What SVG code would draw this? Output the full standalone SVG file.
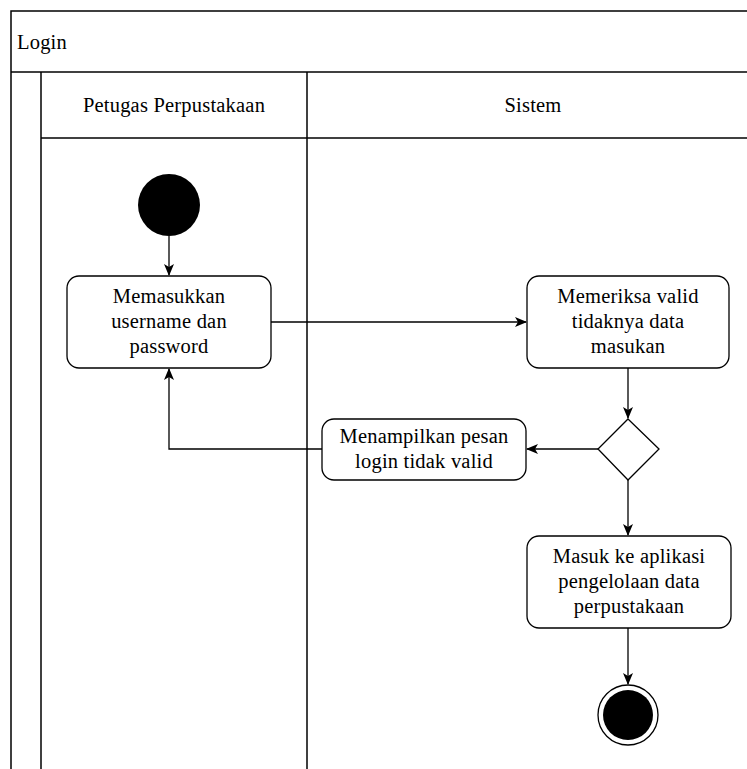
<svg xmlns="http://www.w3.org/2000/svg" width="747" height="769" viewBox="0 0 747 769">
<style>
.ln{stroke:#000;stroke-width:1.3;fill:none}
.fr{stroke:#000;stroke-width:1.5;fill:none}
.box{fill:#fff;stroke:#000;stroke-width:1.3}
text{font-family:'Liberation Serif','Times New Roman',serif;font-size:20.5px;fill:#000;letter-spacing:0.2px}
.t{text-anchor:middle}
</style>
<defs>
<marker id="ah" markerWidth="12" markerHeight="10" refX="11" refY="5" orient="auto" markerUnits="userSpaceOnUse">
<path d="M0,0 L12,5 L0,10 L3,5 Z" fill="#000"/>
</marker>
</defs>
<rect width="747" height="769" fill="#fff"/>
<g id="frame">
<path class="fr" d="M11,769 V11 H747"/>
<path class="fr" d="M11,72 H747"/>
<path class="fr" d="M41,72 V769"/>
<path class="fr" d="M307,72 V769"/>
<path class="fr" d="M41,138 H747"/>
<text x="17" y="49">Login</text>
<text class="t" x="174" y="112">Petugas Perpustakaan</text>
<text class="t" x="533" y="112">Sistem</text>
</g>
<g id="connectors">
<path class="ln" d="M169,236 V275" marker-end="url(#ah)"/>
<path class="ln" d="M271,322 H526" marker-end="url(#ah)"/>
<path class="ln" d="M628,368 V418" marker-end="url(#ah)"/>
<path class="ln" d="M598,449 H527" marker-end="url(#ah)"/>
<path class="ln" d="M322,449 H169 V369" marker-end="url(#ah)"/>
<path class="ln" d="M628,480 V535" marker-end="url(#ah)"/>
<path class="ln" d="M628,628 V684" marker-end="url(#ah)"/>
</g>
<g id="start"><circle cx="169" cy="205" r="31" fill="#000"/></g>
<g id="input">
<rect class="box" x="67" y="276" width="204" height="92" rx="12"/>
<text class="t" x="169" y="303">Memasukkan</text>
<text class="t" x="169" y="328">username dan</text>
<text class="t" x="169" y="353">password</text>
</g>
<g id="check">
<rect class="box" x="527" y="276" width="202" height="92" rx="12"/>
<text class="t" x="628" y="303">Memeriksa valid</text>
<text class="t" x="628" y="328">tidaknya data</text>
<text class="t" x="628" y="353">masukan</text>
</g>
<g id="decision"><path class="box" d="M628,419 L659,449 L628,480 L598,449 Z" stroke="#555"/></g>
<g id="invalid">
<rect class="box" x="322" y="419" width="204" height="61" rx="12"/>
<text class="t" x="424" y="443">Menampilkan pesan</text>
<text class="t" x="424" y="468">login tidak valid</text>
</g>
<g id="enter">
<rect class="box" x="527" y="536" width="204" height="92" rx="12"/>
<text class="t" x="629" y="563">Masuk ke aplikasi</text>
<text class="t" x="629" y="588">pengelolaan data</text>
<text class="t" x="629" y="613">perpustakaan</text>
</g>
<g id="end">
<circle cx="628" cy="715" r="30" fill="#fff" stroke="#000" stroke-width="1.3"/>
<circle cx="628" cy="715" r="25" fill="#000"/>
</g>
</svg>
